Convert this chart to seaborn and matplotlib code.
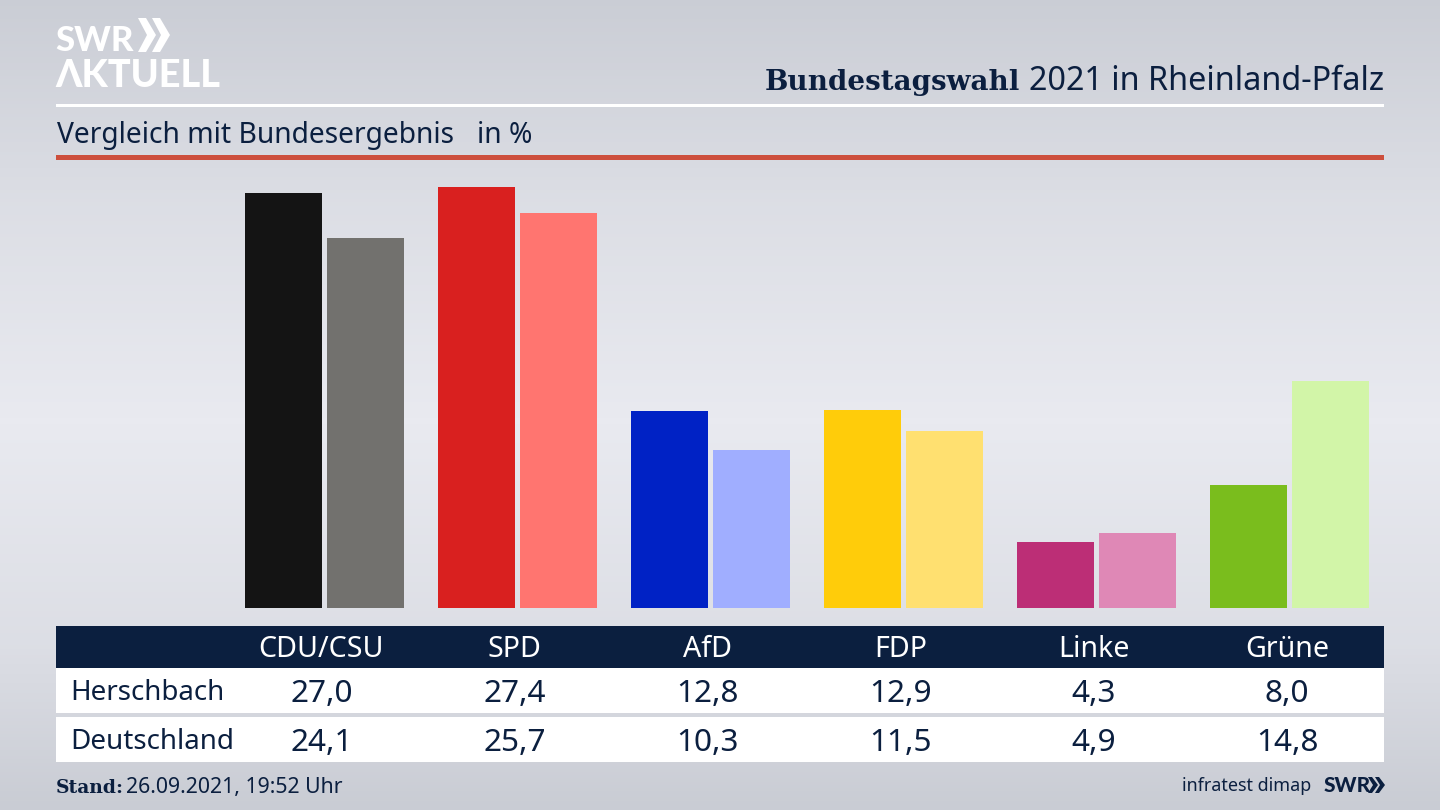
import numpy as np
import pandas as pd
import matplotlib
matplotlib.use("Agg")
import matplotlib.pyplot as plt
from matplotlib.patches import Rectangle, Polygon
import seaborn as sns

# Werte aus der Grafik
parteien = ["CDU/CSU", "SPD", "AfD", "FDP", "Linke", "Grüne"]
herschbach = [27.0, 27.4, 12.8, 12.9, 4.3, 8.0]
deutschland = [24.1, 25.7, 10.3, 11.5, 4.9, 14.8]
zeilen = ["Herschbach", "Deutschland"]
farben_dunkel = ["#141414", "#d9201f", "#0022c5", "#ffcc0a", "#bc2e76", "#7abd1d"]
farben_hell = ["#72716e", "#ff7570", "#a0aeff", "#ffe070", "#df88b6", "#d2f5a8"]

NAVY = "#0b1f3f"
LOGO = ["Lato", "DejaVu Sans"]
FETT = ["DejaVu Serif"]

sns.set_theme(style="white")
plt.rcParams["font.family"] = ["Noto Sans", "DejaVu Sans"]

fig = plt.figure(figsize=(14.4, 8.1), dpi=100)

# Hintergrund mit Pixelkoordinaten
bg = fig.add_axes([0, 0, 1, 1])
bg.set_xlim(0, 1440)
bg.set_ylim(810, 0)
bg.axis("off")
verlauf = np.interp(np.linspace(0, 1, 256), [0, 0.25, 0.52, 0.8, 1], [0.05, 0.6, 1, 0.6, 0]).reshape(-1, 1)
cmap = matplotlib.colors.LinearSegmentedColormap.from_list("bg", ["#c9ccd4", "#e9eaf0"])
bg.imshow(verlauf, cmap=cmap, extent=(0, 1440, 810, 0), aspect="auto", zorder=0)

# Kopf
bg.text(55, 51, "SWR", color="white", fontsize=25, fontweight="black", va="baseline", ha="left", family=LOGO)
bg.text(55, 87, "ΛKTUELL", color="white", fontsize=27.3, fontweight="black", va="baseline", ha="left", family=LOGO)
for dx in (0, 14):
    bg.add_patch(Polygon([[138 + dx, 18], [146 + dx, 18], [156 + dx, 35], [146 + dx, 52], [138 + dx, 52], [147 + dx, 35]],
                         color="white", lw=0))
bg.text(1384, 90, "2021 in Rheinland-Pfalz", color=NAVY, fontsize=23.3, va="baseline", ha="right")
bg.text(1020, 90, "Bundestagswahl", color=NAVY, fontsize=20, fontweight="bold", va="baseline", ha="right", family=FETT)
bg.add_patch(Rectangle((56, 104), 1328, 3, color="white", lw=0))
bg.text(57, 143, "Vergleich mit Bundesergebnis", color=NAVY, fontsize=20.3, va="baseline", ha="left")
bg.text(477, 143, "in %", color=NAVY, fontsize=20.3, va="baseline", ha="left")
bg.add_patch(Rectangle((56, 155), 1328, 5, color="#cd4f3d", lw=0))

# Tabelle
bg.add_patch(Rectangle((56, 626), 1328, 42, color=NAVY, lw=0))
bg.add_patch(Rectangle((56, 668), 1328, 45, color="white", lw=0))
bg.add_patch(Rectangle((56, 717), 1328, 45, color="white", lw=0))
spalten = [321.5 + 193.1 * i for i in range(len(parteien))]
for x, name, a, b in zip(spalten, parteien, herschbach, deutschland):
    bg.text(x, 657, name, color="white", fontsize=20.6, ha="center", va="baseline")
    bg.text(x, 702, f"{a:.1f}".replace(".", ","), color=NAVY, fontsize=22.7, ha="center", va="baseline")
    bg.text(x, 751, f"{b:.1f}".replace(".", ","), color=NAVY, fontsize=22.7, ha="center", va="baseline")
for y, name in zip((700, 749), zeilen):
    bg.text(70, y, name, color=NAVY, fontsize=20, ha="left", va="baseline")

# Fusszeile
bg.text(56, 793, "Stand:", color=NAVY, fontsize=13.5, fontweight="bold", va="baseline", ha="left", family=FETT)
bg.text(126, 793, "26.09.2021, 19:52 Uhr", color=NAVY, fontsize=15.3, va="baseline", ha="left")
bg.text(1311, 791, "infratest dimap", color=NAVY, fontsize=12.9, va="baseline", ha="right")
bg.text(1324, 792, "SWR", color=NAVY, fontsize=15, fontweight="black", va="baseline", ha="left", family=LOGO)
for dx in (0, 7):
    bg.add_patch(Polygon([[1368 + dx, 777], [1372 + dx, 777], [1378 + dx, 785], [1372 + dx, 793], [1368 + dx, 793], [1373 + dx, 785]],
                         color=NAVY, lw=0))

# Balken
df = pd.DataFrame({
    "Partei": parteien * 2,
    "Wert": herschbach + deutschland,
    "Gebiet": [zeilen[0]] * 6 + [zeilen[1]] * 6,
})
ax = fig.add_axes([228 / 1440, (810 - 608) / 810, (1386.5 - 228) / 1440, 448 / 810])
ax.patch.set_alpha(0)
sns.barplot(data=df, x="Partei", y="Wert", hue="Gebiet", order=parteien, hue_order=zeilen,
            width=0.849, gap=0.061, legend=False, ax=ax, saturation=1, errorbar=None)
for cont, farben in zip(ax.containers, (farben_dunkel, farben_hell)):
    for bar, c in zip(cont, farben):
        bar.set_facecolor(c)
        bar.set_edgecolor("none")
ax.set_xlim(-0.5, 5.5)
ax.set_ylim(0, 448 / 15.37)
ax.axis("off")

fig.savefig("out.png", dpi=100)
